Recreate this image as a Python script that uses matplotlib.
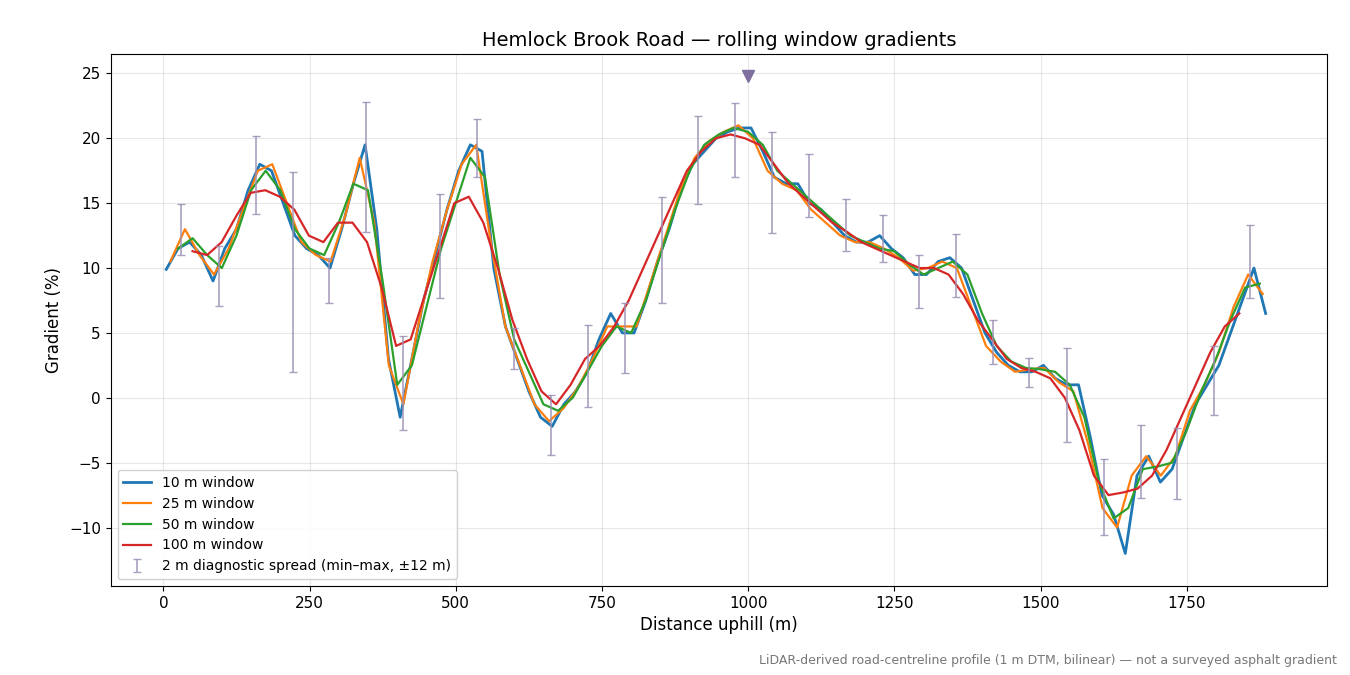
import numpy as np
import matplotlib
matplotlib.use("Agg")
import matplotlib.pyplot as plt

w10 = [9.9, 11.5, 12.0, 11.0, 9.0, 11.5, 13.0, 16.0, 18.0, 17.5, 15.0, 12.5, 11.5, 11.0, 10.0, 13.0,
       16.5, 19.5, 13.0, 3.0, -1.5, 3.0, 7.5, 11.0, 14.5, 17.5, 19.5, 19.0, 10.0, 5.5, 3.0, 0.5, -1.5,
       -2.2, -0.5, 0.5, 2.0, 4.5, 6.5, 5.0, 5.0, 7.5, 10.5, 13.0, 16.0, 18.0, 19.0, 20.0, 20.5, 20.8,
       20.8, 19.0, 17.0, 16.5, 16.5, 15.0, 14.5, 13.5, 12.5, 12.0, 12.0, 12.5, 11.5, 10.8, 9.5, 9.5,
       10.5, 10.8, 10.0, 7.5, 5.0, 3.5, 2.5, 2.0, 2.0, 2.5, 1.5, 1.0, 1.0, -3.0, -7.5, -9.0, -12.0,
       -6.0, -4.5, -6.5, -5.5, -3.0, -0.5, 1.0, 2.5, 5.0, 7.5, 10.0, 6.5]
w25 = [10.5, 13.0, 11.0, 9.5, 11.5, 14.5, 17.5, 18.0, 15.0, 12.0, 11.0, 10.5, 14.0, 18.5, 13.5, 2.5,
       -0.5, 5.5, 10.5, 14.5, 18.0, 19.5, 12.0, 5.5, 2.5, -0.5, -1.8, -0.8, 0.8, 3.0, 5.5, 5.5, 5.5,
       9.0, 12.5, 16.0, 18.5, 19.8, 20.5, 21.0, 20.0, 17.5, 16.5, 16.0, 14.5, 13.5, 12.5, 12.0, 12.0,
       11.5, 10.8, 9.8, 10.0, 10.5, 10.0, 7.0, 4.0, 2.8, 2.0, 2.2, 2.3, 1.2, 0.5, -3.5, -8.5, -10.0,
       -6.0, -4.5, -6.0, -4.5, -1.0, 1.0, 3.5, 7.0, 9.5, 8.0]
w50 = [11.5, 12.3, 11.0, 10.0, 12.5, 16.0, 17.5, 16.0, 13.0, 11.5, 11.0, 13.5, 16.5, 16.0, 9.0, 1.0,
       2.5, 7.0, 11.5, 15.0, 18.5, 17.0, 9.5, 4.5, 2.0, -0.5, -1.0, 0.0, 2.0, 4.0, 5.5, 5.0, 7.5,
       11.0, 14.5, 17.5, 19.5, 20.3, 20.8, 20.5, 19.5, 17.5, 16.5, 15.5, 14.5, 13.5, 12.5, 12.0,
       11.5, 11.3, 10.3, 9.5, 10.0, 10.5, 9.5, 6.5, 4.0, 2.8, 2.3, 2.2, 2.0, 1.0, -1.5, -6.5, -9.3,
       -8.5, -5.5, -5.3, -5.0, -2.5, 0.5, 3.0, 6.0, 8.5, 8.8]
w100 = [11.3, 11.0, 12.0, 14.0, 15.8, 16.0, 15.5, 14.5, 12.5, 12.0, 13.5, 13.5, 12.0, 8.5, 4.0, 4.5,
        8.0, 11.5, 15.0, 15.5, 13.5, 10.0, 6.0, 3.0, 0.5, -0.5, 1.0, 3.0, 4.0, 5.5, 7.5, 10.0, 12.5,
        15.0, 17.5, 19.0, 20.0, 20.3, 20.0, 19.5, 18.0, 16.5, 15.5, 14.5, 13.5, 12.8, 12.0, 11.5,
        11.0, 10.5, 10.0, 10.0, 9.5, 8.0, 6.0, 4.5, 3.0, 2.3, 2.0, 1.5, 0.0, -2.5, -6.0, -7.5, -7.3,
        -7.0, -6.0, -4.0, -1.5, 1.0, 3.5, 5.5, 6.5]

spread_x = [31, 95, 158, 221, 284, 347, 410, 473, 536, 600, 663, 726, 789, 852, 915, 978, 1041,
            1104, 1167, 1230, 1293, 1356, 1418, 1481, 1545, 1608, 1671, 1733, 1796, 1858]
spread_lo = [11.0, 7.1, 14.2, 2.0, 7.3, 12.8, -2.5, 7.7, 17.0, 2.2, -4.4, -0.7, 1.9, 7.3, 14.9,
             17.0, 12.7, 13.9, 11.3, 10.5, 6.9, 7.8, 2.6, 0.8, -3.4, -10.6, -7.7, -7.8, -1.3, 7.7]
spread_hi = [14.9, 11.7, 20.2, 17.4, 10.8, 22.8, 4.8, 15.7, 21.5, 5.4, 0.2, 5.6, 7.3, 15.5, 21.7,
             22.7, 20.5, 18.8, 15.3, 14.1, 11.0, 12.6, 6.0, 3.1, 3.8, -4.7, -2.1, -2.3, 4.0, 13.3]
peak_x, peak_y = 1000, 24.8

x10 = np.linspace(5, 1885, len(w10))
x25 = np.linspace(12, 1880, len(w25))
x50 = np.linspace(25, 1875, len(w50))
x100 = np.linspace(50, 1840, len(w100))

fig, ax = plt.subplots(figsize=(13.5, 6.75), dpi=100)
ax.plot(x10, w10, color="#1f77b4", lw=2.0, label="10 m window")
ax.plot(x25, w25, color="#ff7f0e", lw=1.6, label="25 m window")
ax.plot(x50, w50, color="#2ca02c", lw=1.6, label="50 m window")
ax.plot(x100, w100, color="#d62728", lw=1.6, label="100 m window")
mid = (np.array(spread_lo) + np.array(spread_hi)) / 2
err = [mid - np.array(spread_lo), np.array(spread_hi) - mid]
ax.errorbar(spread_x, mid, yerr=err, fmt="none", ecolor="#9b90b5", elinewidth=1.2, capsize=3,
            alpha=0.85, label="2 m diagnostic spread (min–max, ±12 m)")
ax.plot([peak_x], [peak_y], marker="v", color="#7f6f9f", ms=8, ls="none")

ax.set_xlim(-90, 1990)
ax.set_ylim(-14.5, 26.5)
ax.set_xticks([0, 250, 500, 750, 1000, 1250, 1500, 1750])
ax.set_yticks([-10, -5, 0, 5, 10, 15, 20, 25])
ax.set_yticklabels(["−10", "−5", "0", "5", "10", "15", "20", "25"])
ax.grid(True, alpha=0.3)
ax.tick_params(labelsize=11)
ax.set_xlabel("Distance uphill (m)", fontsize=12)
ax.set_ylabel("Gradient (%)", fontsize=12)
ax.set_title("Hemlock Brook Road — rolling window gradients", fontsize=14)
ax.legend(loc="lower left", fontsize=10, framealpha=0.9)
fig.subplots_adjust(left=0.082, right=0.983, top=0.92, bottom=0.132)
fig.text(0.99, 0.012, "LiDAR-derived road-centreline profile (1 m DTM, bilinear) — not a surveyed asphalt gradient",
         ha="right", va="bottom", fontsize=9, color="#777777")
fig.savefig("out.png")
